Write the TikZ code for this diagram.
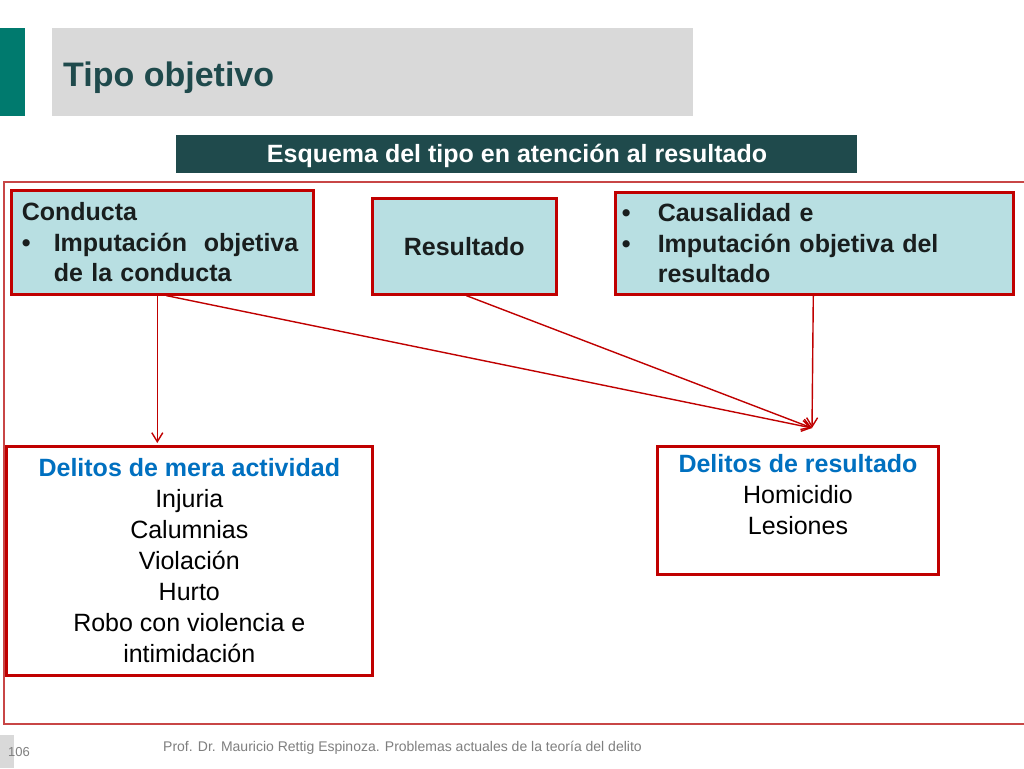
\documentclass[tikz,border=0pt]{standalone}
\usepackage{fontspec}
\setmainfont{Liberation Sans}
\usetikzlibrary{arrows.meta}
\definecolor{tealbar}{RGB}{0,122,110}
\definecolor{titlegray}{RGB}{217,217,217}
\definecolor{titletxt}{RGB}{31,74,76}
\definecolor{hdr}{RGB}{31,74,76}
\definecolor{cyanfill}{RGB}{184,223,226}
\definecolor{boxred}{RGB}{192,0,0}
\definecolor{framered}{RGB}{200,70,70}
\definecolor{bluetxt}{RGB}{0,112,192}
\definecolor{foot}{RGB}{127,127,127}
\definecolor{darktxt}{RGB}{25,30,30}
\tikzset{
  topbox/.style={draw=boxred, line width=2.6pt, fill=cyanfill, anchor=north west, inner sep=0pt,
    font=\fontsize{25}{30.5}\selectfont\bfseries, text=darktxt},
  lowbox/.style={draw=boxred, line width=2.6pt, fill=white, anchor=north west, inner sep=0pt,
    font=\fontsize{25}{31}\selectfont, align=center},
  conn/.style={draw=boxred, line width=1.4pt, -{Straight Barb[length=9pt,width=11pt,line width=1.4pt]}},
}
\begin{document}
\begin{tikzpicture}[x=1pt,y=-1pt]
\useasboundingbox (0,0) rectangle (1024,768);
\fill[white] (0,0) rectangle (1024,768);
% title area
\fill[tealbar] (0,28) rectangle (25,116);
\fill[titlegray] (52,28) rectangle (693,116);
\node[anchor=west, text=titletxt, font=\fontsize{34}{37}\selectfont\bfseries, inner sep=0pt] (title) at (63,78) {Tipo objetivo};
% header
\node[fill=hdr, text=white, font=\fontsize{25}{28}\selectfont\bfseries, minimum width=681pt, minimum height=38pt, inner sep=0pt, anchor=north west] (hdr) at (176,135) {};
\node[text=white, font=\fontsize{25}{28}\selectfont\bfseries, inner sep=0pt] (hdrt) at (517,156) {Esquema del tipo en atención al resultado};
% outer frame
\draw[framered, line width=1.3pt] (1024,182) -- (4,182) -- (4,724) -- (1024,724);
% top boxes
\node[topbox, minimum width=302pt, minimum height=104pt, text width=281pt, align=left] (cond) at (10,189)
  {Conducta\\\makebox[32pt][l]{\textbullet}Imputación\ \ objetiva\\\hspace*{32pt}de la conducta};
\node[topbox, minimum width=184pt, minimum height=96pt, align=center] (res) at (371,197) {Resultado};
\node[topbox, minimum width=398pt, minimum height=102pt, text width=385pt, align=left] (caus) at (614,191)
  {\makebox[36pt][l]{\textbullet}Causalidad e\\\makebox[36pt][l]{\textbullet}Imputación objetiva del\\\hspace*{36pt}resultado};
% bottom boxes
\node[lowbox, minimum width=366pt, minimum height=229pt] (mera) at (5,445)
  {{\color{bluetxt}\bfseries Delitos de mera actividad}\\Injuria\\Calumnias\\Violación\\Hurto\\Robo con violencia e\\intimidación};
\node[lowbox, minimum width=281pt, minimum height=128pt, anchor=north] (resd) at (798,445) {};
\node[anchor=north, font=\fontsize{25}{31}\selectfont, align=center, inner sep=0pt] (resdt) at (798,454)
  {{\color{bluetxt}\bfseries Delitos de resultado}\\Homicidio\\Lesiones};
% connectors
\coordinate (tgt) at (812,428);
\draw[conn] ([xshift=-5pt]cond.south) -- ([xshift=-32pt,yshift=2pt]mera.north);
\draw[conn] ([xshift=4pt]cond.south) -- (tgt);
\draw[conn] ([xshift=2pt]res.south) -- (tgt);
\draw[conn] ([xshift=-1pt]caus.south) -- (tgt);
% footer
\fill[titlegray] (0,735) rectangle (14,768);
\node[anchor=west, text=foot, font=\fontsize{13}{15}\selectfont, inner sep=0pt] (pg) at (8,752) {106};
\node[anchor=west, text=foot, font=\fontsize{14}{16}\selectfont, inner sep=0pt] (ft) at (163,748) {Prof. Dr. Mauricio Rettig Espinoza. Problemas actuales de la teoría del delito};
\end{tikzpicture}
\end{document}
